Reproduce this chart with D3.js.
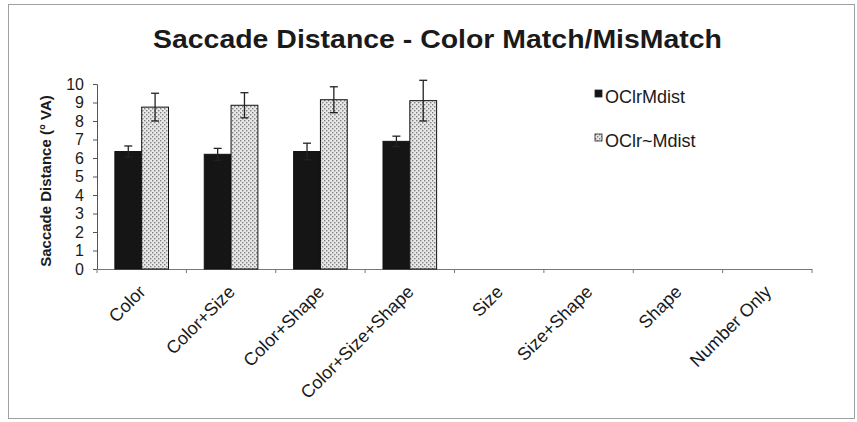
<!DOCTYPE html>
<html>
<head>
<meta charset="utf-8">
<script src="https://cdn.jsdelivr.net/npm/d3@7"></script>
<style>
  html, body { margin: 0; padding: 0; background: #fff; }
  svg { display: block; font-family: "Liberation Sans", Arial, sans-serif; }
</style>
</head>
<body>
<svg id="chart" width="857" height="422"></svg>
<script>
// Conditions on the x axis
const categories = ["Color", "Color+Size", "Color+Shape", "Color+Size+Shape", "Size", "Size+Shape", "Shape", "Number Only"];
// Series names
const seriesNames = ["OClrMdist", "OClr~Mdist"];
// Mean saccade distance (° VA); null where no data
const matchValues    = [6.35, 6.2, 6.35, 6.9, null, null, null, null];
const mismatchValues = [8.75, 8.85, 9.15, 9.1, null, null, null, null];
// Error bar half-widths
const matchErrors    = [0.3, 0.32, 0.45, 0.28, null, null, null, null];
const mismatchErrors = [0.75, 0.68, 0.7, 1.1, null, null, null, null];
// Y axis tick values
const yTicks = [0, 1, 2, 3, 4, 5, 6, 7, 8, 9, 10];

const svg = d3.select("#chart");

// Outer chart frame
svg.append("rect")
  .attr("x", 8.5).attr("y", 4.5).attr("width", 846).attr("height", 414)
  .attr("fill", "#fff").attr("stroke", "#a0a0a0").attr("stroke-width", 1);

// Dotted fill for the second series
const defs = svg.append("defs");
const pat = defs.append("pattern")
  .attr("id", "dots").attr("patternUnits", "userSpaceOnUse")
  .attr("width", 4).attr("height", 4);
pat.append("rect").attr("width", 4).attr("height", 4).attr("fill", "#e8e8e8");
pat.append("rect").attr("x", 0).attr("y", 0).attr("width", 1.4).attr("height", 1.4).attr("fill", "#808080");
pat.append("rect").attr("x", 2).attr("y", 2).attr("width", 1.4).attr("height", 1.4).attr("fill", "#808080");

const plot = { left: 97, right: 812, top: 84, bottom: 269 };

const x = d3.scaleBand().domain(categories).range([plot.left, plot.right]).paddingInner(0.40).paddingOuter(0.20);
const xs = d3.scaleBand().domain(seriesNames).range([0, x.bandwidth()]);
const y = d3.scaleLinear().domain([0, 10]).range([plot.bottom, plot.top]);

// Title
svg.append("text")
  .attr("x", 437.5).attr("y", 48)
  .attr("text-anchor", "middle")
  .attr("font-size", 25).attr("font-weight", "bold").attr("fill", "#1a1a1a")
  .attr("textLength", 569).attr("lengthAdjust", "spacingAndGlyphs")
  .text("Saccade Distance - Color Match/MisMatch");

// Y axis
const yAxis = svg.append("g")
  .attr("transform", `translate(${plot.left},0)`)
  .call(d3.axisLeft(y).tickValues(yTicks).tickSize(4).tickPadding(9).tickFormat(d3.format("d")));
yAxis.select(".domain").attr("stroke", "#555");
yAxis.selectAll(".tick line").attr("stroke", "#555");
yAxis.selectAll(".tick text").attr("font-size", 16).attr("fill", "#1a1a1a");

// Y axis title
svg.append("text")
  .attr("transform", `translate(51,181) rotate(-90)`)
  .attr("text-anchor", "middle")
  .attr("font-size", 15).attr("font-weight", "bold").attr("fill", "#1a1a1a")
  .text("Saccade Distance (° VA)");

// X axis line with tick marks between categories
const xTickPos = d3.range(categories.length + 1).map(i => plot.left + i * (plot.right - plot.left) / categories.length);
svg.append("line")
  .attr("x1", plot.left).attr("x2", plot.right)
  .attr("y1", plot.bottom + 0.5).attr("y2", plot.bottom + 0.5)
  .attr("stroke", "#777");
svg.selectAll(".xtick").data(xTickPos).join("line")
  .attr("class", "xtick")
  .attr("x1", d => d).attr("x2", d => d)
  .attr("y1", plot.bottom).attr("y2", plot.bottom + 4)
  .attr("stroke", "#777");

// Category labels
svg.selectAll(".xlab").data(categories).join("text")
  .attr("class", "xlab")
  .attr("transform", d => `translate(${x(d) + x.bandwidth() / 2 + 5},${plot.bottom + 24}) rotate(-45)`)
  .attr("text-anchor", "end")
  .attr("font-size", 18).attr("fill", "#1a1a1a")
  .text(d => d);

// Bars
const series = [
  { name: seriesNames[0], values: matchValues, errors: matchErrors, fill: "#151515" },
  { name: seriesNames[1], values: mismatchValues, errors: mismatchErrors, fill: "url(#dots)" }
];

series.forEach(s => {
  const rows = categories.map((c, i) => ({ c, v: s.values[i], e: s.errors[i] })).filter(r => r.v != null);
  const g = svg.append("g");
  g.selectAll("rect").data(rows).join("rect")
    .attr("x", r => x(r.c) + xs(s.name))
    .attr("y", r => y(r.v))
    .attr("width", xs.bandwidth())
    .attr("height", r => y(0) - y(r.v))
    .attr("fill", s.fill)
    .attr("stroke", "#111").attr("stroke-width", 1);

  // Error bars
  const eb = g.selectAll(".eb").data(rows).join("g").attr("class", "eb");
  const cx = r => x(r.c) + xs(s.name) + xs.bandwidth() / 2;
  eb.append("line")
    .attr("x1", cx).attr("x2", cx)
    .attr("y1", r => y(r.v - r.e)).attr("y2", r => y(r.v + r.e))
    .attr("stroke", "#222").attr("stroke-width", 1.3);
  eb.append("line")
    .attr("x1", r => cx(r) - 4).attr("x2", r => cx(r) + 4)
    .attr("y1", r => y(r.v + r.e)).attr("y2", r => y(r.v + r.e))
    .attr("stroke", "#222").attr("stroke-width", 1.3);
  eb.append("line")
    .attr("x1", r => cx(r) - 4).attr("x2", r => cx(r) + 4)
    .attr("y1", r => y(r.v - r.e)).attr("y2", r => y(r.v - r.e))
    .attr("stroke", "#222").attr("stroke-width", 1.3);
});

// Legend
const legend = svg.selectAll(".leg").data(series).join("g")
  .attr("class", "leg")
  .attr("transform", (d, i) => `translate(595,${90 + i * 44})`);
legend.append("rect")
  .attr("x", 0).attr("y", 0).attr("width", 7).attr("height", 7)
  .attr("fill", d => d.fill).attr("stroke", "#222").attr("stroke-width", 0.8);
legend.append("text")
  .attr("x", 10).attr("y", 13)
  .attr("font-size", 18).attr("fill", "#1a1a1a")
  .text(d => d.name);
</script>
</body>
</html>
